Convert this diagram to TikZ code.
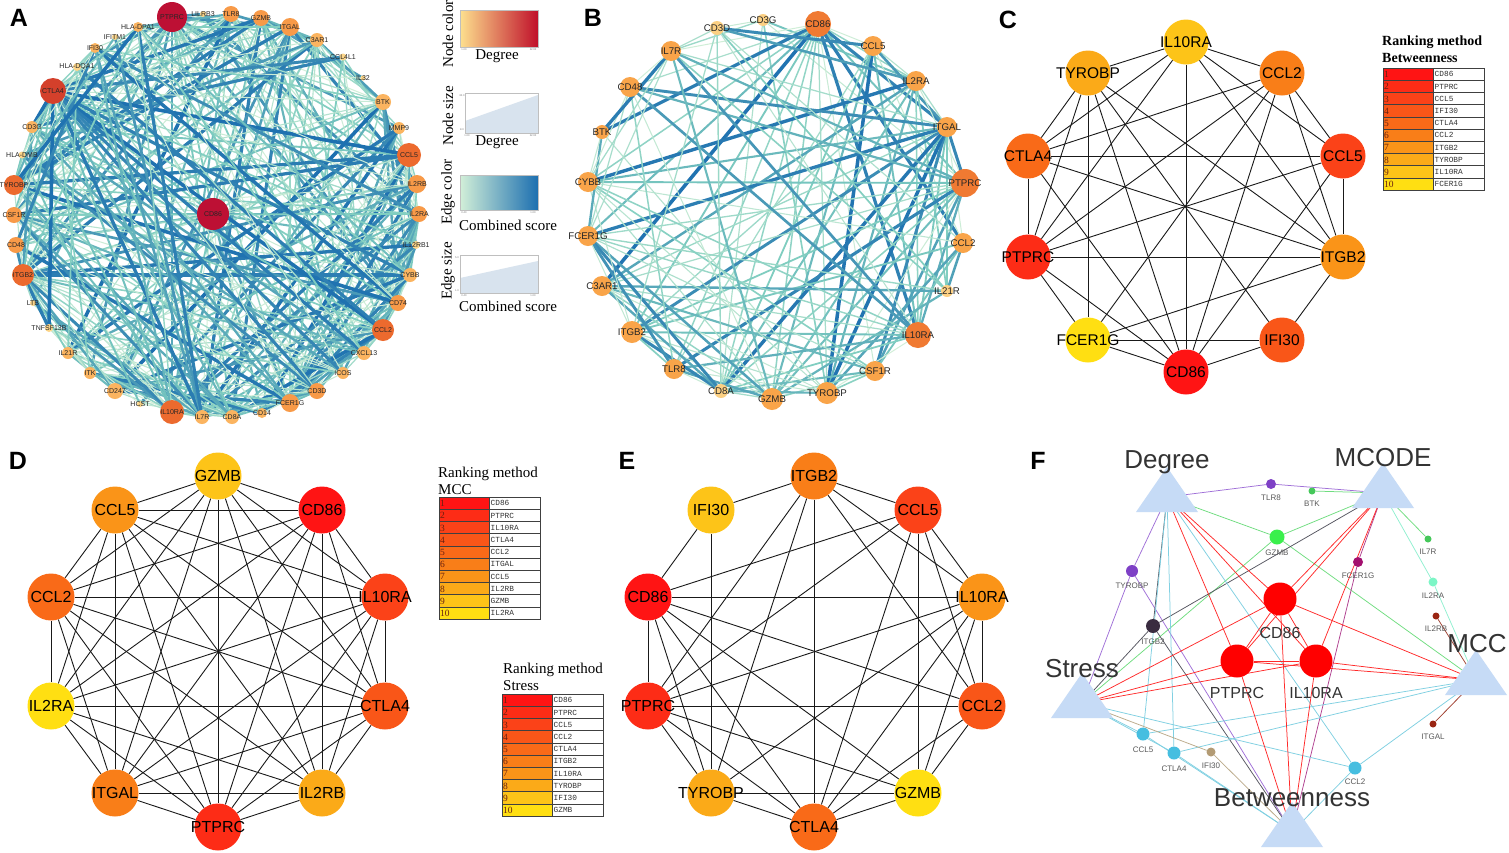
\documentclass[tikz,border=0pt]{standalone}
\usepackage{fontspec}
\setmainfont{Liberation Sans}
\newfontfamily\serifF{Liberation Serif}
\newfontfamily\monoF{Liberation Mono}
\usetikzlibrary{calc}
\pgfdeclarelayer{bg}
\pgfsetlayers{bg,main}
\newcommand\fs[1]{\fontsize{#1}{#1}\selectfont}
% node colours panel A / B
\definecolor{ap}{HTML}{FDD68A}
\definecolor{al}{HTML}{FBB460}
\definecolor{am}{HTML}{F89A48}
\definecolor{ad}{HTML}{EC6A2E}
\definecolor{ar}{HTML}{D4402B}
\definecolor{ax}{HTML}{BD1034}
\definecolor{bo}{HTML}{F9A449}
\definecolor{bd}{HTML}{F07A32}
\definecolor{bp}{HTML}{FCD083}
\definecolor{elight}{HTML}{D2EFD8}
\definecolor{emid}{HTML}{7FCDC0}
\definecolor{edark}{HTML}{1C6FB0}
% rank colours
\definecolor{rk1}{HTML}{FF1414}
\definecolor{rk2}{HTML}{FD2C16}
\definecolor{rk3}{HTML}{FB4218}
\definecolor{rk4}{HTML}{F95618}
\definecolor{rk5}{HTML}{F96A18}
\definecolor{rk6}{HTML}{F97E18}
\definecolor{rk7}{HTML}{FA9418}
\definecolor{rk8}{HTML}{FBAA18}
\definecolor{rk9}{HTML}{FDC418}
\definecolor{rk10}{HTML}{FFDF12}
\definecolor{tabnumcol}{HTML}{6A2010}
% legend
\definecolor{nlo}{HTML}{FDE08E}
\definecolor{nmid}{HTML}{F89A48}
\definecolor{nhi}{HTML}{C0102A}
\definecolor{legfill}{HTML}{D8E3EE}
% panel F
\definecolor{tricol}{HTML}{C6DBF6}
\definecolor{gpur}{HTML}{7E40C6}
\definecolor{ggrn}{HTML}{45C85A}
\definecolor{gbgr}{HTML}{3AF04C}
\definecolor{gmag}{HTML}{A3106F}
\definecolor{gaqu}{HTML}{7CF6C6}
\definecolor{gdr}{HTML}{9A2512}
\definecolor{gdk}{HTML}{3A2C40}
\definecolor{gcy}{HTML}{46BEE0}
\definecolor{gtan}{HTML}{B39B74}
\definecolor{gred}{HTML}{FF0000}
\definecolor{epur}{HTML}{A070D8}
\definecolor{egrn}{HTML}{70DD80}
\definecolor{emag}{HTML}{B04090}
\definecolor{eaqu}{HTML}{90F0D0}
\definecolor{edr}{HTML}{A04030}
\definecolor{edk}{HTML}{555560}
\definecolor{ecy}{HTML}{80D0E2}
\definecolor{etan}{HTML}{BBAA8A}
\definecolor{ered}{HTML}{FF2A2A}

\newcommand\edgecol[1]{%
  \pgfmathsetmacro\eLW{1.0+2.6*#1*#1}%
  \ifdim#1pt<0.55pt
    \pgfmathtruncatemacro\eCM{#1/0.55*100}%
    \colorlet{ecur}{emid!\eCM!elight}%
  \else
    \pgfmathtruncatemacro\eCM{(#1-0.55)/0.45*100}%
    \colorlet{ecur}{edark!\eCM!emid}%
  \fi}

\newcommand\ranktab[4]{%
  \foreach \tn [count=\tk] in {#4}{%
    \pgfmathsetmacro\ty{#3+(\tk-1)*12.2}%
    \fill[fill=rk\tk] (#2,\ty) rectangle ++(50,12.2);
    \draw[tabline] (#2,\ty) rectangle ++(50,12.2);
    \draw[tabline] (#2+50,\ty) rectangle ++(51,12.2);
    \node[tabnum] (#1n\tk) at (#2+1,\ty+6.6) {\tk};
    \node[tabname] (#1t\tk) at (#2+51.5,\ty+6.4) {\tn};
  }}

\newcommand\tri[3]{\coordinate (#1) at (#2,#3);
  \fill[tricol] (#2,#3-30) -- (#2+31,#3+15) -- (#2-31,#3+15) -- cycle;}

\begin{document}
\begin{tikzpicture}[x=1pt,y=-1pt,
  plet/.style={font=\fs{25}\bfseries, text=black, inner sep=0pt},
  anode/.style={circle, inner sep=0pt, draw=none},
  alab/.style={font=\fs{7}, text=black!85, inner sep=0pt},
  blab/.style={font=\fs{9.7}, text=black!85, inner sep=0pt},
  clab/.style={font=\fs{15.5}, text=black, inner sep=0pt},
  dlab/.style={font=\fs{16}, text=black, inner sep=0pt},
  cedge/.style={draw=black!90, line width=0.9pt},
  legtxt/.style={font=\serifF\fs{15}, text=black, inner sep=0pt},
  ticklab/.style={font=\fs{2.6}, text=black!55, inner sep=0pt},
  legbox/.style={draw=black!25, line width=0.5pt},
  tabline/.style={draw=black!75, line width=0.6pt},
  tabnum/.style={font=\serifF\fs{9.5}, text=tabnumcol, anchor=west, inner sep=0pt},
  tabname/.style={font=\monoF\fs{7.8}, text=black!80, anchor=west, inner sep=0pt},
  tabtitle/.style={font=\serifF\fs{15}, anchor=west, inner sep=0pt},
  mlab/.style={font=\fs{26}, text=black!80, inner sep=0pt},
  glab/.style={font=\fs{8}, text=black!65, inner sep=0pt},
  Glab/.style={font=\fs{16}, text=black!80, inner sep=0pt},
  fedge/.style={line width=0.75pt},
]
\begin{pgfonlayer}{bg}
\fill[white] (0,0) rectangle (1509,852);
\end{pgfonlayer}
\useasboundingbox (0,0) rectangle (1509,852);

% ---------------- panel letters
\node[plet] (LA) at (19,18) {A};
\node[plet] (LB) at (593,18) {B};
\node[plet] (LC) at (1008,20) {C};
\node[plet] (LD) at (18,461) {D};
\node[plet] (LE) at (627,461) {E};
\node[plet] (LF) at (1038,461) {F};

% ---------------- panel A
\foreach \ni/\nx/\ny/\nr/\ncol/\nw/\nlab in {
0/213/214/16/ax/1.0/CD86,
1/172/17/15/ax/1.0/PTPRC,
2/203/14/3/ap/0.15/LILRB3,
3/231/14/8/am/0.5/TLR8,
4/261/18/8/am/0.5/GZMB,
5/290/27/9/am/0.55/ITGAL,
6/317/40/7/al/0.45/C3AR1,
7/343/57/3.5/ap/0.15/CCL4L1,
8/363/78/2.5/ap/0.1/IL32,
9/383/102/8/al/0.45/BTK,
10/399/128/6/al/0.3/MMP9,
11/409/155/12/ad/0.75/CCL5,
12/417/184/9/am/0.55/IL2RB,
13/419/214/8/am/0.5/IL2RA,
14/416/245/4/ap/0.2/IL12RB1,
15/410/275/7/al/0.45/CYBB,
16/398/303/8/am/0.45/CD74,
17/383/330/11/ad/0.7/CCL2,
18/364/353/7/al/0.4/CXCL13,
19/343/373/6/al/0.35/ICOS,
20/317/391/8/am/0.5/CD3D,
21/290/403/9/am/0.55/FCER1G,
22/262/413/5/al/0.3/CD14,
23/232/417/7/al/0.45/CD8A,
24/202/417/7/al/0.45/IL7R,
25/172/412/12/ad/0.75/IL10RA,
26/140/404/3/ap/0.15/HCST,
27/115/391/8/al/0.45/CD247,
28/90/373/6/al/0.4/ITK,
29/68/353/6/al/0.35/IL21R,
30/49/328/4/ap/0.25/TNFSF13B,
31/33/303/3/ap/0.15/LTB,
32/23/275/11/ad/0.75/ITGB2,
33/16/245/8/am/0.45/CD48,
34/14/215/8/am/0.5/CSF1R,
35/14/185/10/ad/0.6/TYROBP,
36/22/155/3.5/ap/0.15/HLA-DMB,
37/32/127/6/al/0.35/CD3G,
38/53/91/13/ar/0.85/CTLA4,
39/77/67/4/ap/0.2/HLA-DQA1,
40/95/48/5/al/0.3/IFI30,
41/115/37/3/ap/0.12/IFITM1,
42/138/27/5/al/0.3/HLA-DPA1}{
  \node[anode, minimum size={2*\nr pt}, fill=\ncol] (A\ni) at (\nx,\ny) {};
  \node[alab] (LA\ni) at (\nx,\ny) {\nlab};
  \expandafter\xdef\csname wA\ni\endcsname{\nw}
}
\begin{pgfonlayer}{bg}
\pgfmathsetseed{4242}
\foreach \i in {0,...,41}{
  \pgfmathtruncatemacro\js{\i+1}
  \foreach \j in {\js,...,42}{
    \edef\wi{\csname wA\i\endcsname}\edef\wj{\csname wA\j\endcsname}
    \pgfmathsetmacro\eP{1.8*\wi*\wj}
    \pgfmathsetmacro\eR{rnd}
    \ifdim\eR pt<\eP pt
      \pgfmathsetmacro\eT{rnd}
      \edgecol{\eT}
      \draw[draw=ecur, line width=\eLW pt] (A\i.center) -- (A\j.center);
    \fi
  }
}
\end{pgfonlayer}

% ---------------- legend
\node[legtxt, rotate=90] (lg1) at (448,34) {Node color};
\shade[left color=nlo, middle color=nmid, right color=nhi] (460,10) rectangle (538,47);
\draw[legbox] (460,10) rectangle (538,47);
\node[ticklab] (lg1a) at (464,50) {1.00};
\node[ticklab] (lg1b) at (533,50) {22.00};
\node[legtxt] (lg1t) at (497,56) {Degree};

\node[legtxt, rotate=90] (lg2) at (448,116) {Node size};
\fill[legfill] (465,133) -- (465,121) -- (538,95) -- (538,133) -- cycle;
\draw[legbox] (465,93) rectangle (538,133);
\node[ticklab] (lg2a) at (462,96) {30.0};
\node[ticklab] (lg2b) at (462,130) {8.0};
\node[ticklab] (lg2c) at (467,136) {1.00};
\node[ticklab] (lg2d) at (533,136) {22.00};
\node[legtxt] (lg2t) at (497,142) {Degree};

\node[legtxt, rotate=90] (lg3) at (448,192) {Edge color};
\shade[left color=elight, middle color=emid, right color=edark] (460,175) rectangle (538,210);
\draw[legbox] (460,175) rectangle (538,210);
\node[ticklab] (lg3a) at (464,213) {0.40};
\node[ticklab] (lg3b) at (533,213) {1.00};
\node[legtxt] (lg3t) at (508,225) {Combined score};

\node[legtxt, rotate=90] (lg4) at (448,271) {Edge size};
\fill[legfill] (460,293) -- (460,278) -- (538,261) -- (538,293) -- cycle;
\draw[legbox] (460,255) rectangle (538,293);
\node[ticklab] (lg4a) at (457,258) {5.0};
\node[ticklab] (lg4b) at (457,291) {1.0};
\node[ticklab] (lg4c) at (464,296) {0.40};
\node[ticklab] (lg4d) at (533,296) {1.00};
\node[legtxt] (lg4t) at (508,306) {Combined score};

% ---------------- panel B
\foreach \ni/\nx/\ny/\nr/\ncol/\nw/\nlab in {
0/763/20/6/bp/0.5/CD3G,
1/818/24/13/bd/0.9/CD86,
2/873/46/10/bo/0.6/CCL5,
3/916/81/10/bo/0.6/IL2RA,
4/947/127/10/bo/0.8/ITGAL,
5/965/183/14/bd/0.95/PTPRC,
6/963/243/10/bo/0.55/CCL2,
7/947/291/6/bp/0.4/IL21R,
8/918/335/13/bd/0.7/IL10RA,
9/875/371/10/bo/0.6/CSF1R,
10/827/393/11/bo/0.8/TYROBP,
11/772/399/11/bo/0.6/GZMB,
12/721/391/7/bp/0.8/CD8A,
13/674/369/10/bo/0.6/TLR8,
14/632/332/11/bo/0.8/ITGB2,
15/602/286/10/bo/0.6/C3AR1,
16/588/236/10/bo/0.65/FCER1G,
17/588/182/10/bo/0.7/CYBB,
18/602/132/7/bo/0.5/BTK,
19/630/87/10/bo/0.5/CD48,
20/671/51/10/bo/0.55/IL7R,
21/717/28/7/bp/0.6/CD3D}{
  \node[anode, minimum size={2*\nr pt}, fill=\ncol] (B\ni) at (\nx,\ny) {};
  \node[blab] (LB\ni) at (\nx,\ny) {\nlab};
  \expandafter\xdef\csname wB\ni\endcsname{\nw}
}
\begin{pgfonlayer}{bg}
\pgfmathsetseed{777}
\foreach \i in {0,...,20}{
  \pgfmathtruncatemacro\js{\i+1}
  \foreach \j in {\js,...,21}{
    \edef\wi{\csname wB\i\endcsname}\edef\wj{\csname wB\j\endcsname}
    \pgfmathsetmacro\eP{1.3*\wi*\wj}
    \pgfmathsetmacro\eR{rnd}
    \ifdim\eR pt<\eP pt
      \pgfmathsetmacro\eT{rnd}
      \edgecol{\eT}
      \draw[draw=ecur, line width=\eLW pt] (B\i.center) -- (B\j.center);
    \fi
  }
}
\end{pgfonlayer}

% ---------------- panel C
\foreach \nn/\nx/\ny/\ncol/\nlab in {
cIL10RA/1186/42/rk9/IL10RA, cCCL2/1282/73/rk6/CCL2, cCCL5/1343/156/rk3/CCL5,
cITGB2/1343/257/rk7/ITGB2, cIFI30/1282/340/rk4/IFI30, cCD86/1186/372/rk1/CD86,
cFCER1G/1088/340/rk10/FCER1G, cPTPRC/1028/257/rk2/PTPRC, cCTLA4/1028/156/rk5/CTLA4,
cTYROBP/1088/73/rk8/TYROBP}{
  \node[anode, minimum size=45pt, fill=\ncol] (\nn) at (\nx,\ny) {};
  \node[clab] (L\nn) at (\nx,\ny) {\nlab};
}
\begin{pgfonlayer}{bg}
\foreach \a/\b in {cIL10RA/cTYROBP, cIL10RA/cCCL2, cIL10RA/cCD86, cIL10RA/cCTLA4,
 cIL10RA/cPTPRC, cIL10RA/cITGB2, cIL10RA/cCCL5,
 cTYROBP/cCTLA4, cTYROBP/cPTPRC, cTYROBP/cFCER1G, cTYROBP/cCD86, cTYROBP/cIFI30, cTYROBP/cITGB2,
 cCTLA4/cCCL2, cCTLA4/cCCL5, cCTLA4/cPTPRC, cCTLA4/cITGB2, cCTLA4/cCD86,
 cCCL2/cPTPRC, cCCL2/cFCER1G, cCCL2/cCD86, cCCL2/cCCL5, cCCL2/cITGB2,
 cCCL5/cITGB2, cCCL5/cPTPRC, cCCL5/cCD86,
 cITGB2/cPTPRC, cITGB2/cFCER1G, cITGB2/cIFI30,
 cPTPRC/cFCER1G, cPTPRC/cCD86,
 cFCER1G/cIFI30, cFCER1G/cCD86, cIFI30/cCD86}{
  \draw[cedge] (\a) -- (\b);
}
\end{pgfonlayer}
\node[tabtitle, font=\serifF\fs{14}\bfseries] (tCt1) at (1382,42) {Ranking method};
\node[tabtitle, font=\serifF\fs{14}\bfseries] (tCt2) at (1382,58) {Betweenness};
\ranktab{tC}{1383}{68}{CD86,PTPRC,CCL5,IFI30,CTLA4,CCL2,ITGB2,TYROBP,IL10RA,FCER1G}

% ---------------- panel D
\foreach \nn/\nx/\ny/\ncol/\nlab in {
dGZMB/218/476/rk9/GZMB, dCD86/322/510/rk1/CD86, dIL10RA/385/597/rk3/IL10RA,
dCTLA4/385/706/rk4/CTLA4, dIL2RB/322/793/rk8/IL2RB, dPTPRC/218/827/rk2/PTPRC,
dITGAL/115/793/rk6/ITGAL, dIL2RA/51/706/rk10/IL2RA, dCCL2/51/597/rk5/CCL2,
dCCL5/115/510/rk7/CCL5}{
  \node[anode, minimum size=47pt, fill=\ncol] (\nn) at (\nx,\ny) {};
  \node[dlab] (L\nn) at (\nx,\ny) {\nlab};
}
\begin{pgfonlayer}{bg}
\foreach \a [count=\ia] in {dGZMB,dCD86,dIL10RA,dCTLA4,dIL2RB,dPTPRC,dITGAL,dIL2RA,dCCL2,dCCL5}{
  \foreach \b [count=\ib] in {dGZMB,dCD86,dIL10RA,dCTLA4,dIL2RB,dPTPRC,dITGAL,dIL2RA,dCCL2,dCCL5}{
    \ifnum\ia<\ib \draw[cedge] (\a) -- (\b); \fi
  }
}
\end{pgfonlayer}
\node[tabtitle] (tDt1) at (438,474) {Ranking method};
\node[tabtitle] (tDt2) at (438,490) {MCC};
\ranktab{tD}{439}{497}{CD86,PTPRC,IL10RA,CTLA4,CCL2,ITGAL,CCL5,IL2RB,GZMB,IL2RA}
\node[tabtitle] (tEt1) at (503,670) {Ranking method};
\node[tabtitle] (tEt2) at (503,686) {Stress};
\ranktab{tE}{502}{694}{CD86,PTPRC,CCL5,CCL2,CTLA4,ITGB2,IL10RA,TYROBP,IFI30,GZMB}

% ---------------- panel E
\foreach \nn/\nx/\ny/\ncol/\nlab in {
eITGB2/814/476/rk6/ITGB2, eCCL5/918/510/rk3/CCL5, eIL10RA/982/597/rk7/IL10RA,
eCCL2/982/706/rk4/CCL2, eGZMB/918/793/rk10/GZMB, eCTLA4/814/827/rk5/CTLA4,
eTYROBP/711/793/rk8/TYROBP, ePTPRC/648/706/rk2/PTPRC, eCD86/648/597/rk1/CD86,
eIFI30/711/510/rk9/IFI30}{
  \node[anode, minimum size=47pt, fill=\ncol] (\nn) at (\nx,\ny) {};
  \node[dlab] (L\nn) at (\nx,\ny) {\nlab};
}
\begin{pgfonlayer}{bg}
\foreach \a/\b in {eITGB2/eIFI30, eITGB2/eCCL5, eITGB2/eIL10RA, eITGB2/eCCL2, eITGB2/eCTLA4,
 eITGB2/eTYROBP, eITGB2/ePTPRC, eIFI30/eCD86, eIFI30/eTYROBP,
 eCCL5/eCD86, eCCL5/ePTPRC, eCCL5/eIL10RA, eCCL5/eCCL2, eCCL5/eGZMB, eCCL5/eCTLA4,
 eCD86/eIL10RA, eCD86/ePTPRC, eCD86/eCCL2, eCD86/eGZMB, eCD86/eCTLA4, eCD86/eTYROBP,
 eIL10RA/ePTPRC, eIL10RA/eCCL2, eIL10RA/eGZMB, eIL10RA/eCTLA4, eIL10RA/eTYROBP,
 eCCL2/ePTPRC, eCCL2/eGZMB, eCCL2/eCTLA4,
 ePTPRC/eTYROBP, ePTPRC/eCTLA4, ePTPRC/eGZMB,
 eTYROBP/eGZMB, eTYROBP/eCTLA4, eGZMB/eCTLA4}{
  \draw[cedge] (\a) -- (\b);
}
\end{pgfonlayer}

% ---------------- panel F
\tri{tDeg}{1167}{497}
\tri{tMCODE}{1383}{493}
\tri{tMCC}{1476}{680}
\tri{tStress}{1082}{703}
\tri{tBetw}{1292}{832}

\foreach \nn/\nx/\ny/\nr/\ncol/\nlab/\ly in {
FTLR8/1271/484/5/gpur/TLR8/498, FBTK/1312/491/3.5/ggrn/BTK/504,
FGZMB/1277/537/7.5/gbgr/GZMB/553, FIL7R/1428/539/3.5/ggrn/IL7R/552,
FFCER1G/1358/562/5/gmag/FCER1G/576, FTYROBP/1132/571/6/gpur/TYROBP/586,
FIL2RA/1433/582/4.5/gaqu/IL2RA/596, FIL2RB/1436/616/3.5/gdr/IL2RB/629,
FITGB2/1153/626/7/gdk/ITGB2/642, FITGAL/1433/724/3.5/gdr/ITGAL/737,
FCCL5/1143/734/6.5/gcy/CCL5/750, FCTLA4/1174/753/6.5/gcy/CTLA4/769,
FIFI30/1211/752/4.5/gtan/IFI30/766, FCCL2/1355/768/6.5/gcy/CCL2/782}{
  \node[anode, minimum size={2*\nr pt}, fill=\ncol] (\nn) at (\nx,\ny) {};
  \node[glab] (L\nn) at (\nx,\ly) {\nlab};
}
\node[anode, minimum size=33pt, fill=gred] (FCD86) at (1280,599) {};
\node[anode, minimum size=33pt, fill=gred] (FPTPRC) at (1237,661) {};
\node[anode, minimum size=33pt, fill=gred] (FIL10RA) at (1316,661) {};
\node[Glab] (LFCD86) at (1280,633) {CD86};
\node[Glab] (LFPTPRC) at (1237,693) {PTPRC};
\node[Glab] (LFIL10RA) at (1316,693) {IL10RA};

\begin{pgfonlayer}{bg}
\foreach \g/\m/\cl in {
FTLR8/tDeg/epur, FTLR8/tMCODE/epur, FTYROBP/tDeg/epur, FTYROBP/tStress/epur, FTYROBP/tBetw/epur,
FBTK/tMCODE/egrn, FGZMB/tDeg/egrn, FGZMB/tMCODE/egrn, FGZMB/tMCC/egrn, FGZMB/tStress/egrn,
FIL7R/tMCODE/egrn, FFCER1G/tMCODE/emag, FFCER1G/tBetw/emag,
FIL2RA/tMCODE/eaqu, FIL2RA/tMCC/eaqu, FIL2RB/tMCC/edr, FITGAL/tMCC/edr,
FITGB2/tDeg/edk, FITGB2/tMCODE/edk, FITGB2/tStress/edk, FITGB2/tBetw/edk,
FCCL5/tDeg/ecy, FCCL5/tStress/ecy, FCCL5/tMCC/ecy, FCCL5/tBetw/ecy,
FCTLA4/tDeg/ecy, FCTLA4/tStress/ecy, FCTLA4/tMCC/ecy, FCTLA4/tBetw/ecy,
FCCL2/tDeg/ecy, FCCL2/tStress/ecy, FCCL2/tMCC/ecy, FCCL2/tBetw/ecy,
FIFI30/tStress/etan, FIFI30/tBetw/etan,
FCD86/tDeg/ered, FCD86/tMCODE/ered, FCD86/tStress/ered, FCD86/tMCC/ered, FCD86/tBetw/ered,
FPTPRC/tDeg/ered, FPTPRC/tMCODE/ered, FPTPRC/tStress/ered, FPTPRC/tMCC/ered, FPTPRC/tBetw/ered,
FIL10RA/tDeg/ered, FIL10RA/tMCODE/ered, FIL10RA/tStress/ered, FIL10RA/tMCC/ered, FIL10RA/tBetw/ered,
FCD86/FPTPRC/ered, FCD86/FIL10RA/ered, FPTPRC/FIL10RA/ered}{
  \draw[fedge, draw=\cl] (\g) -- (\m);
}
\end{pgfonlayer}

\node[mlab] (mDeg) at (1167,462) {Degree};
\node[mlab] (mMCODE) at (1383,458) {MCODE};
\node[mlab] (mMCC) at (1477,644) {MCC};
\node[mlab] (mStress) at (1082,669) {Stress};
\node[mlab] (mBetw) at (1292,798) {Betweenness};
\end{tikzpicture}
\end{document}
